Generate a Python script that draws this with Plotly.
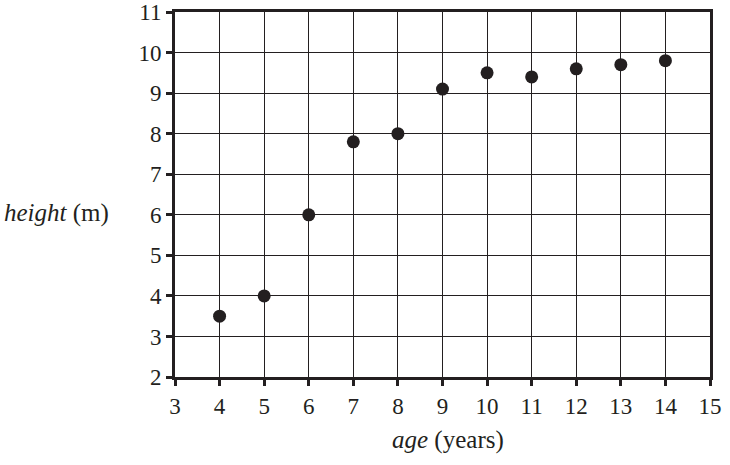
import plotly.graph_objects as go

age = [4, 5, 6, 7, 8, 9, 10, 11, 12, 13, 14]
height = [3.5, 4.0, 6.0, 7.8, 8.0, 9.1, 9.5, 9.4, 9.6, 9.7, 9.8]
x_ticks = list(range(3, 16))
y_ticks = list(range(2, 12))

ink = "#231f20"
tick_font = dict(family="Liberation Serif, Times New Roman, serif", size=23, color=ink)
title_font = dict(family="Liberation Serif, Times New Roman, serif", size=25, color=ink)

fig = go.Figure()
fig.add_trace(go.Scatter(
    x=age, y=height, mode="markers",
    marker=dict(size=13, color=ink, line=dict(width=0)),
    showlegend=False, hoverinfo="skip",
))

axis_common = dict(
    showgrid=True, gridcolor=ink, gridwidth=1,
    showline=True, linecolor=ink, linewidth=3, mirror=True,
    ticks="outside", ticklen=6, tickwidth=3, tickcolor=ink,
    zeroline=False, tickfont=tick_font, automargin=False,
)

fig.update_xaxes(range=[3, 15], tickvals=x_ticks, ticktext=[str(v) for v in x_ticks], **axis_common)
fig.update_yaxes(range=[2, 11], tickvals=y_ticks, ticktext=[str(v) for v in y_ticks], **axis_common)

fig.add_annotation(
    text="<i>age</i> (years)", xref="paper", yref="paper",
    x=0.51, y=-0.173, yanchor="middle", xanchor="center",
    showarrow=False, font=title_font,
)
fig.add_annotation(
    text="<i>height</i> (m)", xref="paper", yref="paper",
    x=-0.2206, y=0.449, xanchor="center", yanchor="middle",
    showarrow=False, font=title_font,
)

fig.update_layout(
    width=730, height=465,
    margin=dict(l=175, r=20, t=12, b=88, autoexpand=False),
    plot_bgcolor="white", paper_bgcolor="white",
    font=tick_font,
)

fig.write_html("out.html", config={"displayModeBar": False, "staticPlot": True})

with open("out.html", "r", encoding="utf-8") as f:
    html = f.read()
html = html.replace("<body>", '<body style="margin:0;padding:0;overflow:hidden">', 1)
with open("out.html", "w", encoding="utf-8") as f:
    f.write(html)
